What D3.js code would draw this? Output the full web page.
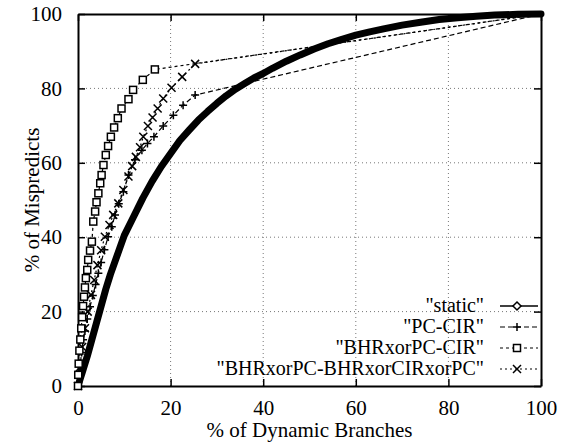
<!DOCTYPE html>
<html>
<head>
<meta charset="utf-8">
<script src="https://cdn.jsdelivr.net/npm/d3@7"></script>
<style>
  body { margin: 0; background: #fff; }
  svg { display: block; }
</style>
</head>
<body>
<svg id="chart" width="566" height="442"></svg>
<script>
// values (% of dynamic branches vs % of mispredicts)
const staticX = [0, 0.5, 1, 2, 3, 4, 5, 6, 7, 8, 9, 10, 12, 14, 16, 18, 20, 22, 24, 26, 28, 30, 32, 34, 36, 38, 40, 42, 45, 48, 51, 54, 57, 60, 63, 66, 70, 74, 78, 82, 86, 90, 95, 100];
const staticY = [0, 2, 4, 8, 12.5, 17, 21.5, 26, 30, 33.5, 37, 40.5, 45.5, 50.5, 55, 59, 62.5, 66, 68.8, 71.5, 73.8, 76, 78, 79.8, 81.3, 82.8, 84, 85.4, 87.3, 89, 90.6, 92, 93.2, 94.3, 95.2, 96, 97, 97.8, 98.5, 99, 99.4, 99.7, 99.9, 100];

const pcCirX = [0, 0.2, 0.5, 0.8, 1.1, 1.5, 2.0, 2.6, 3.2, 3.8, 4.4, 5.0, 5.7, 6.5, 7.3, 8.0, 8.8, 9.8, 10.9, 12.3, 13.8, 15.0, 16.4, 18.4, 20.6, 22.7, 25.3, 100];
const pcCirY = [0, 3, 6, 9, 12.4, 14.8, 18, 21.3, 24.3, 27.3, 30.3, 33.2, 36.6, 40.1, 42.8, 46, 49, 52.2, 56.7, 60.8, 63.4, 65.2, 67.0, 69.9, 72.8, 75.5, 78.2, 100];

const bhrCirX = [0, 0.05, 0.15, 0.3, 0.5, 0.7, 0.9, 1.1, 1.3, 1.5, 1.7, 2.0, 2.2, 2.6, 3.0, 3.3, 3.7, 4.0, 4.4, 4.8, 5.1, 5.5, 6.0, 6.5, 7.1, 7.8, 8.6, 9.4, 10.9, 11.9, 14.0, 16.6, 100];
const bhrCirY = [0, 3, 6, 9.5, 12.5, 15.5, 18.5, 21.5, 24, 26.5, 29, 31.2, 33.9, 36.4, 38.8, 44.2, 46.9, 49.4, 51.8, 54.5, 56.7, 59.4, 62.1, 64.5, 67.0, 69.5, 72.0, 74.6, 77.1, 79.6, 82.3, 85.1, 100];

const bhrXorX = [0, 0.4, 0.9, 1.5, 2.1, 2.8, 3.5, 4.2, 5.0, 5.8, 6.8, 7.6, 8.7, 9.8, 10.9, 11.7, 12.5, 13.4, 14.1, 15.1, 16.1, 17.2, 18.4, 20.2, 22.5, 25.3, 100];
const bhrXorY = [0, 5, 10.5, 15.5, 20, 24.5, 28.5, 32.5, 36.5, 40.1, 43.3, 46.0, 49.1, 52.7, 56.3, 59.1, 61.6, 64.2, 67.0, 69.9, 72.2, 74.6, 77.3, 80.2, 83.1, 86.6, 100];

const seriesNames = ['"static"', '"PC-CIR"', '"BHRxorPC-CIR"', '"BHRxorPC-BHRxorCIRxorPC"'];
const tickValues = [0, 20, 40, 60, 80, 100];

const FONT = '"Liberation Serif", "DejaVu Serif", "Times New Roman", Times, serif';
const fontSize = 21;

const svg = d3.select("#chart");
const margin = { left: 78, right: 25, top: 14, bottom: 56 };
const W = 566, H = 442;

const x = d3.scaleLinear().domain([0, 100]).range([margin.left, W - margin.right]);
const y = d3.scaleLinear().domain([0, 100]).range([H - margin.bottom, margin.top]);

// dotted grid
const grid = svg.append("g").attr("stroke", "#777").attr("stroke-width", 1).attr("stroke-dasharray", "1,3");
grid.selectAll("line.gx").data(tickValues.slice(1, -1)).enter().append("line")
    .attr("x1", d => x(d)).attr("x2", d => x(d))
    .attr("y1", y(0)).attr("y2", y(100));
grid.selectAll("line.gy").data(tickValues.slice(1, -1)).enter().append("line")
    .attr("x1", x(0)).attr("x2", x(100))
    .attr("y1", d => y(d)).attr("y2", d => y(d));

// axes with inward ticks on all four sides
const axB = svg.append("g").attr("transform", `translate(0,${y(0)})`)
    .call(d3.axisBottom(x).tickValues(tickValues).tickSizeInner(-7).tickSizeOuter(0).tickPadding(14));
const axL = svg.append("g").attr("transform", `translate(${x(0)},0)`)
    .call(d3.axisLeft(y).tickValues(tickValues).tickSizeInner(-7).tickSizeOuter(0).tickPadding(16));
const axT = svg.append("g").attr("transform", `translate(0,${y(100)})`)
    .call(d3.axisTop(x).tickValues(tickValues).tickSizeInner(-7).tickSizeOuter(0).tickFormat(""));
const axR = svg.append("g").attr("transform", `translate(${x(100)},0)`)
    .call(d3.axisRight(y).tickValues(tickValues).tickSizeInner(-7).tickSizeOuter(0).tickFormat(""));
[axB, axL, axT, axR].forEach(a => {
    a.attr("font-family", FONT).attr("font-size", fontSize);
    a.select(".domain").attr("stroke", "#000").attr("stroke-width", 2);
    a.selectAll(".tick line").attr("stroke", "#000").attr("stroke-width", 1.5);
    a.selectAll(".tick text").attr("fill", "#000");
});

// axis titles
svg.append("text").attr("x", (x(0) + x(100)) / 2).attr("y", 437)
    .attr("text-anchor", "middle").attr("font-family", FONT).attr("font-size", fontSize)
    .text("% of Dynamic Branches");
svg.append("text").attr("transform", `translate(39,${(y(0) + y(100)) / 2}) rotate(-90)`)
    .attr("text-anchor", "middle").attr("font-family", FONT).attr("font-size", fontSize)
    .text("% of Mispredicts");

const line = d3.line().x(d => x(d[0])).y(d => y(d[1]));
const zip = (xs, ys) => xs.map((v, i) => [v, ys[i]]);

const staticPts = zip(staticX, staticY);
const pcPts = zip(pcCirX, pcCirY);
const bhrPts = zip(bhrCirX, bhrCirY);
const xorPts = zip(bhrXorX, bhrXorY);

const plot = svg.append("g");

// static: dense diamonds make a thick band
plot.append("path").datum(staticPts).attr("d", line)
    .attr("fill", "none").attr("stroke", "#000").attr("stroke-width", 7)
    .attr("stroke-linejoin", "round").attr("stroke-linecap", "round");

plot.append("path").datum(pcPts).attr("d", line)
    .attr("fill", "none").attr("stroke", "#000").attr("stroke-width", 1.2).attr("stroke-dasharray", "5,3");
plot.append("path").datum(xorPts).attr("d", line)
    .attr("fill", "none").attr("stroke", "#000").attr("stroke-width", 1.2).attr("stroke-dasharray", "2,3");
plot.append("path").datum(bhrPts).attr("d", line)
    .attr("fill", "none").attr("stroke", "#000").attr("stroke-width", 1.2).attr("stroke-dasharray", "3,3");

function plusMark(g, s) {
    g.append("path").attr("d", `M${-s},0H${s}M0,${-s}V${s}`).attr("stroke", "#000").attr("stroke-width", 1.5);
}
function crossMark(g, s) {
    g.append("path").attr("d", `M${-s},${-s}L${s},${s}M${-s},${s}L${s},${-s}`).attr("stroke", "#000").attr("stroke-width", 1.5);
}
function squareMark(g, s) {
    g.append("rect").attr("x", -s).attr("y", -s).attr("width", 2 * s).attr("height", 2 * s)
        .attr("fill", "#fff").attr("stroke", "#000").attr("stroke-width", 1.5);
}
function diamondMark(g, s) {
    g.append("path").attr("d", `M0,${-s}L${s},0L0,${s}L${-s},0Z`).attr("fill", "#fff").attr("stroke", "#000").attr("stroke-width", 1.5);
}

function drawMarks(pts, fn, s) {
    pts.filter(p => p[0] < 100).forEach(p => {
        const g = plot.append("g").attr("transform", `translate(${x(p[0])},${y(p[1])})`);
        fn(g, s);
    });
}
drawMarks(pcPts, plusMark, 4);
drawMarks(xorPts, crossMark, 4);
drawMarks(bhrPts, squareMark, 3.5);

// legend
const legend = svg.append("g");
const rowY = [306, 327, 348, 369];
const marks = [diamondMark, plusMark, squareMark, crossMark];
const dashes = [null, "5,3", "3,3", "2,3"];
seriesNames.forEach((name, i) => {
    legend.append("text").attr("x", 484).attr("y", rowY[i] + 6)
        .attr("text-anchor", "end").attr("font-family", FONT).attr("font-size", 20).text(name);
    legend.append("line").attr("x1", 500).attr("x2", 538).attr("y1", rowY[i]).attr("y2", rowY[i])
        .attr("stroke", "#000").attr("stroke-width", i === 0 ? 1.5 : 1.2)
        .attr("stroke-dasharray", dashes[i]);
    const g = legend.append("g").attr("transform", `translate(517,${rowY[i]})`);
    marks[i](g, i === 2 ? 3.5 : 4);
});
</script>
</body>
</html>
